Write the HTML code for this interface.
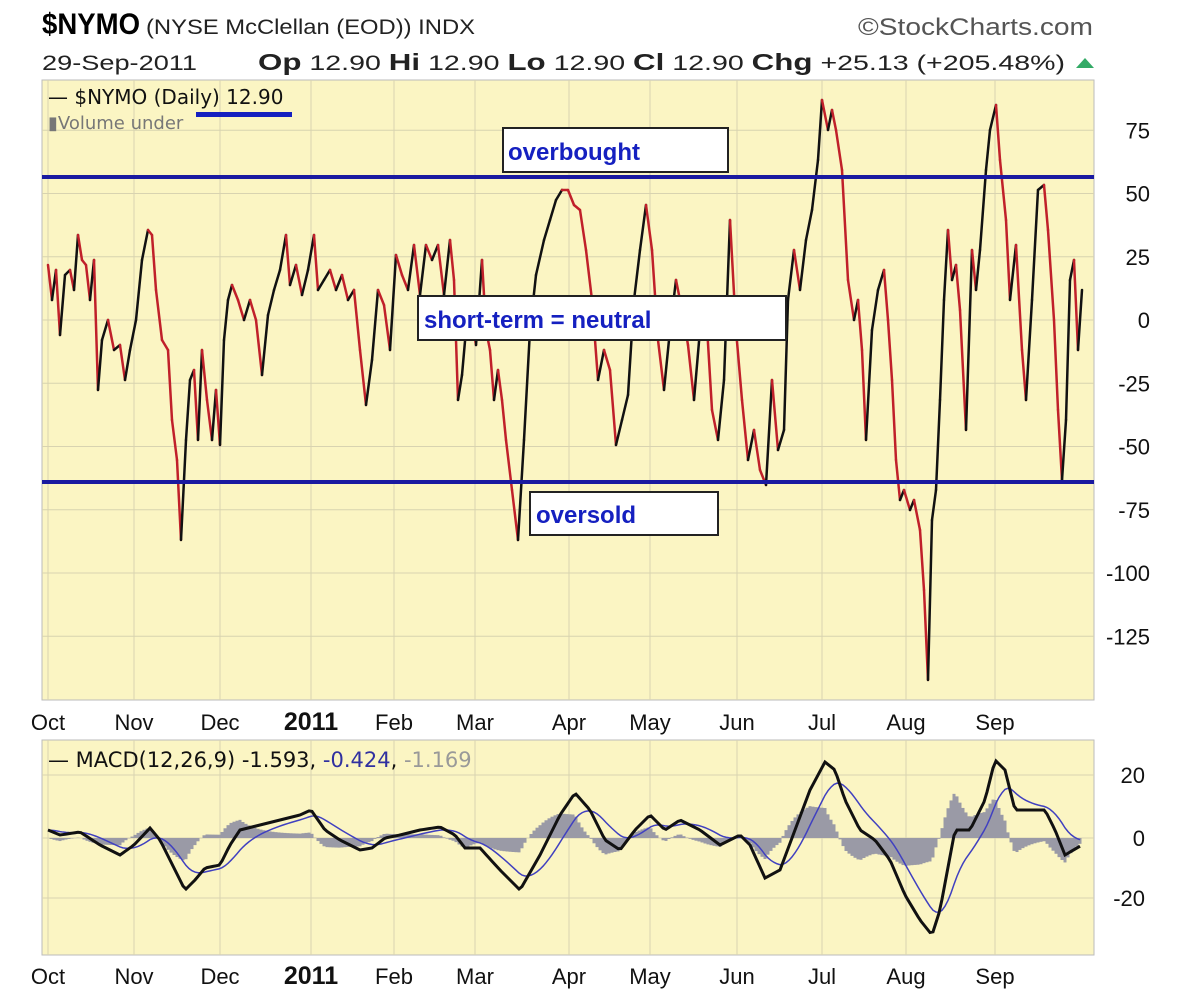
<!DOCTYPE html>
<html><head><meta charset="utf-8"><style>
body{margin:0;background:#fff;width:1200px;height:999px;overflow:hidden;font-family:"Liberation Sans",sans-serif}
</style></head><body>
<svg id="s" width="1200" height="999" xmlns="http://www.w3.org/2000/svg" font-family="Liberation Sans, sans-serif">
<rect x="42" y="80" width="1052" height="620" fill="#fbf5c3" stroke="#bbb"/>
<rect x="42" y="740" width="1052" height="215" fill="#fbf5c3" stroke="#bbb"/>
<g id="grid" stroke="#d8d3b0" stroke-width="1"></g>
<text x="42" y="34" font-size="30" font-weight="bold" textLength="98" lengthAdjust="spacingAndGlyphs">$NYMO</text>
<text x="146" y="34" font-size="21" fill="#222" textLength="329" lengthAdjust="spacingAndGlyphs">(NYSE McClellan (EOD)) INDX</text>
<text x="42" y="70" font-size="21" fill="#222" textLength="155" lengthAdjust="spacingAndGlyphs">29-Sep-2011</text>
<text x="258" y="70" font-size="21" fill="#222" textLength="807" lengthAdjust="spacingAndGlyphs"><tspan font-weight="bold" font-size="23">Op</tspan> 12.90  <tspan font-weight="bold" font-size="23">Hi</tspan> 12.90  <tspan font-weight="bold" font-size="23">Lo</tspan> 12.90  <tspan font-weight="bold" font-size="23">Cl</tspan> 12.90  <tspan font-weight="bold" font-size="23">Chg</tspan> +25.13 (+205.48%)</text>
<polygon points="1076,68 1094,68 1085,58" fill="#3a6"/>
<text x="858" y="35" font-size="24" fill="#555" textLength="235" lengthAdjust="spacingAndGlyphs">©StockCharts.com</text>
<text x="48" y="104" font-size="20" font-family="DejaVu Sans, sans-serif" fill="#111">— $NYMO (Daily) 12.90</text>
<rect x="196" y="112" width="96" height="5" fill="#1520c0"/>
<text x="48" y="129" font-size="18" font-family="DejaVu Sans, sans-serif" fill="#777">▮Volume under</text>
<g id="lines"></g>
<line x1="42" y1="177" x2="1094" y2="177" stroke="#1a1aa0" stroke-width="4"/>
<line x1="42" y1="482" x2="1094" y2="482" stroke="#1a1aa0" stroke-width="4"/>
<rect x="503" y="128" width="225" height="44" fill="#fff" stroke="#222" stroke-width="2"/>
<text x="508" y="160" font-size="24" font-weight="bold" fill="#1520c0">overbought</text>
<rect x="418" y="296" width="368" height="44" fill="#fff" stroke="#222" stroke-width="2"/>
<text x="424" y="328" font-size="24" font-weight="bold" fill="#1520c0">short-term = neutral</text>
<rect x="530" y="492" width="188" height="43" fill="#fff" stroke="#222" stroke-width="2"/>
<text x="536" y="523" font-size="24" font-weight="bold" fill="#1520c0">oversold</text>
<text x="48" y="767" font-size="21" font-family="DejaVu Sans, sans-serif" fill="#111">— MACD(12,26,9) -1.593, <tspan fill="#3030a0">-0.424</tspan>, <tspan fill="#999">-1.169</tspan></text>
<g id="lab" font-size="22" fill="#111"></g>
</svg>
<script>
var S=document.getElementById('s'),ns='http://www.w3.org/2000/svg';
function el(p,t,a){var e=document.createElementNS(ns,t);for(var k in a)e.setAttribute(k,a[k]);p.appendChild(e);return e}
var G=document.getElementById('grid'),L=document.getElementById('lines'),B=document.getElementById('lab');
var mx=[48,134,220,311,394,475,569,650,737,822,906,995],mn=['Oct','Nov','Dec','2011','Feb','Mar','Apr','May','Jun','Jul','Aug','Sep'];
mx.forEach(function(x,i){el(G,'line',{x1:x,y1:80,x2:x,y2:700});el(G,'line',{x1:x,y1:740,x2:x,y2:955});
[730,984].forEach(function(y){var t=el(B,'text',{x:x,y:y,'text-anchor':'middle'});if(i==3){t.setAttribute('font-weight','bold');t.setAttribute('font-size','25')}t.textContent=mn[i];});});
[75,50,25,0,-25,-50,-75,-100,-125].forEach(function(v){var y=320-v*2.53;el(G,'line',{x1:42,y1:y,x2:1094,y2:y});var t=el(B,'text',{x:1150,y:y+8,'text-anchor':'end'});t.textContent=v;});
[[20,775],[0,838],[-20,898]].forEach(function(a){el(G,'line',{x1:42,y1:a[1],x2:1094,y2:a[1]});var t=el(B,'text',{x:1145,y:a[1]+8,'text-anchor':'end'});t.textContent=a[0];});
var P=[48,265,52,300,56,270,60,335,65,275,70,270,74,290,78,235,82,260,86,265,90,300,94,260,98,390,102,340,108,320,114,350,120,345,125,380,130,350,136,320,142,260,148,230,152,235,156,290,162,340,168,350,172,420,177,460,181,540,186,440,190,380,194,370,198,440,202,350,207,400,212,440,216,390,220,445,224,340,228,300,232,285,238,300,244,320,250,300,256,320,262,375,268,315,274,290,280,270,286,235,290,285,296,265,302,295,308,270,314,235,318,290,324,280,330,270,336,290,342,275,348,300,354,290,360,350,366,405,372,360,378,290,384,305,390,350,396,255,402,275,408,290,414,245,420,295,426,245,432,260,438,245,444,295,450,240,454,280,458,400,462,375,466,330,470,310,476,345,482,260,486,330,490,350,494,400,498,370,502,400,506,440,512,490,518,540,524,440,530,330,536,275,544,240,550,220,556,200,562,190,568,190,574,205,580,210,586,250,592,300,598,380,604,350,610,370,616,445,622,420,628,395,634,300,640,250,646,205,652,250,658,340,664,390,670,330,676,280,682,310,688,345,694,400,700,330,706,310,712,410,718,440,724,380,730,220,736,330,742,400,748,460,754,430,760,470,766,485,772,380,778,450,784,430,788,300,794,250,800,290,806,240,812,210,818,160,822,100,828,130,832,110,836,130,842,170,848,280,854,320,858,300,862,350,866,440,872,330,878,290,884,270,888,320,892,380,896,460,900,500,904,490,910,510,914,500,920,530,924,590,928,680,932,520,936,490,940,400,944,300,948,230,952,280,956,265,960,310,966,430,972,250,976,290,980,250,986,170,990,130,996,105,1000,160,1006,220,1010,300,1016,245,1022,350,1026,400,1032,300,1038,190,1044,185,1048,230,1054,320,1058,410,1062,480,1066,420,1070,280,1074,260,1078,350,1082,290];
for(var i=0;i+3<P.length;i+=2){el(L,'line',{x1:P[i],y1:P[i+1],x2:P[i+2],y2:P[i+3],stroke:P[i+3]<P[i+1]?'#111':'#c0202a','stroke-width':2.5,'stroke-linecap':'round'});}
var M=[48,830,60,835,80,832,100,845,120,855,134,845,150,828,160,840,175,870,185,890,195,880,205,868,220,865,230,845,240,830,260,825,280,820,300,815,311,810,325,830,340,840,360,850,372,848,385,838,400,835,420,830,440,827,455,835,465,848,480,848,500,870,520,890,540,855,560,815,575,793,590,810,605,840,620,850,635,830,650,815,665,830,680,820,700,830,720,845,740,835,750,845,765,878,780,870,795,830,810,790,825,762,835,770,845,800,860,830,875,840,890,860,905,895,920,920,932,935,940,910,955,830,970,830,985,800,995,760,1005,770,1015,810,1030,810,1045,810,1055,830,1065,855,1082,845];
var xs=[],ys=[];for(var x=48;x<=1082;x+=3){for(var j=0;j+3<M.length;j+=2)if(x>=M[j]&&x<=M[j+2]){var t=(x-M[j])/(M[j+2]-M[j]);xs.push(x);ys.push(M[j+1]+t*(M[j+3]-M[j+1]));break;}}
var sg=[],e=ys[0];ys.forEach(function(y){e+= (y-e)*0.15;sg.push(e)});
xs.forEach(function(x,i){var h=(ys[i]-sg[i])*0.9;el(L,'rect',{x:x-1.5,y:Math.min(838,838+h),width:3,height:Math.abs(h),fill:'#9a9aa6'})});
el(L,'polyline',{points:xs.map(function(x,i){return x+','+sg[i]}).join(' '),fill:'none',stroke:'#4040c0','stroke-width':1.5});
el(L,'polyline',{points:xs.map(function(x,i){return x+','+ys[i]}).join(' '),fill:'none',stroke:'#111','stroke-width':3});
</script>
</body></html>
